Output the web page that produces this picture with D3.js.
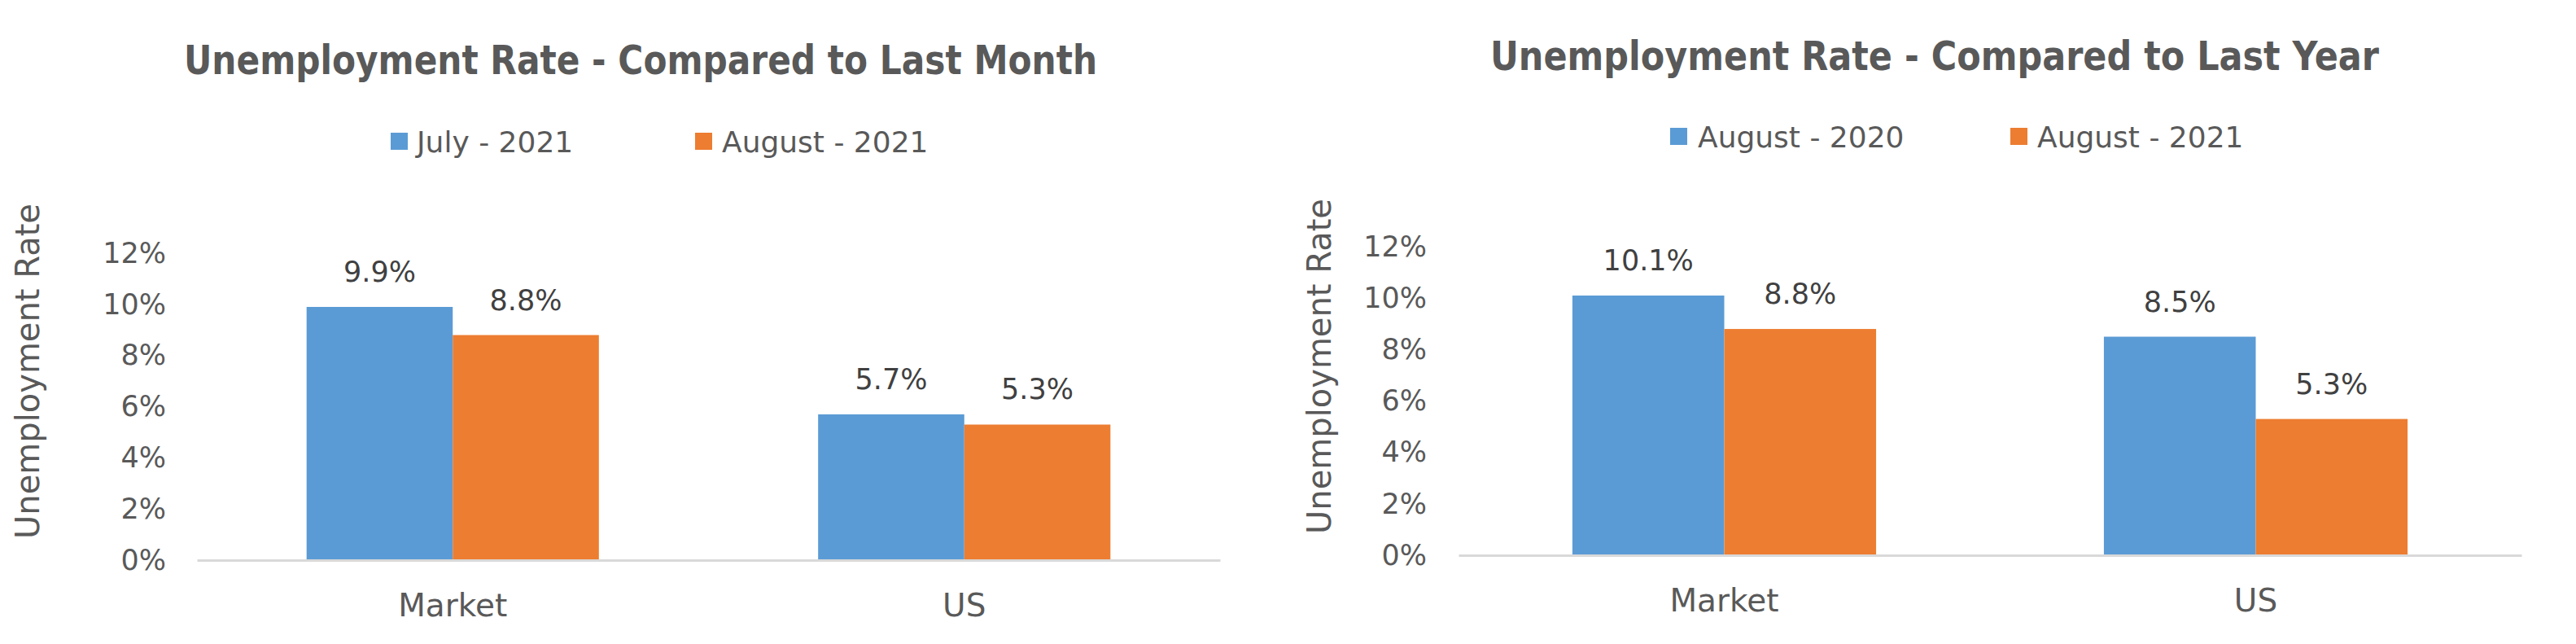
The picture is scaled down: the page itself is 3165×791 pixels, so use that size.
<!DOCTYPE html>
<html>
<head>
<meta charset="utf-8">
<script src="https://cdn.jsdelivr.net/npm/d3@7"></script>
<style>
  html, body { margin: 0; padding: 0; background: #ffffff; }
  svg { display: block; }
  text { font-family: "DejaVu Sans", sans-serif; }
</style>
</head>
<body>
<svg id="chart" width="3165" height="791"></svg>
<script>
// ---------- DATA ----------
const categories = ["Market", "US"];
const yTicks = [0, 2, 4, 6, 8, 10, 12];

const monthTitle = "Unemployment Rate - Compared to Last Month";
const monthSeries = ["July - 2021", "August - 2021"];
const monthValuesA = [9.9, 5.7];   // July - 2021
const monthValuesB = [8.8, 5.3];   // August - 2021

const yearTitle = "Unemployment Rate - Compared to Last Year";
const yearSeries = ["August - 2020", "August - 2021"];
const yearValuesA = [10.1, 8.5];   // August - 2020
const yearValuesB = [8.8, 5.3];    // August - 2021

const yAxisTitle = "Unemployment Rate";
const colors = ["#5B9BD5", "#ED7D31"];

// ---------- LAYOUT ----------
const layouts = [
  { title: monthTitle, series: monthSeries, values: [monthValuesA, monthValuesB],
    titleX: 787, titleY: 91, titleW: 1122,
    legY: 163, legBase: 187, legSq: [480, 854], legTx: [512, 887],
    yTitleX: 48, yTitleY: 456,
    tickRight: 204, x0: 242, x1: 1499, yBottom: 688, yTop: 311 },
  { title: yearTitle, series: yearSeries, values: [yearValuesA, yearValuesB],
    titleX: 2377, titleY: 86, titleW: 1092,
    legY: 157, legBase: 181, legSq: [2052, 2470], legTx: [2086, 2503],
    yTitleX: 1635, yTitleY: 450,
    tickRight: 1753, x0: 1792, x1: 3098, yBottom: 682, yTop: 303 }
];

const svg = d3.select("#chart");

layouts.forEach(L => {
  const g = svg.append("g");

  // Title
  g.append("text")
    .attr("x", L.titleX).attr("y", L.titleY)
    .attr("text-anchor", "middle")
    .attr("font-size", 49).attr("font-weight", "bold")
    .attr("fill", "#595959")
    .attr("textLength", L.titleW).attr("lengthAdjust", "spacingAndGlyphs")
    .text(L.title);

  // Legend
  L.series.forEach((s, i) => {
    g.append("rect")
      .attr("x", L.legSq[i]).attr("y", L.legY)
      .attr("width", 21).attr("height", 21)
      .attr("fill", colors[i]);
    g.append("text")
      .attr("x", L.legTx[i]).attr("y", L.legBase)
      .attr("font-size", 36).attr("fill", "#595959")
      .text(s);
  });

  // Scales
  const x = d3.scaleBand().domain(categories).range([L.x0, L.x1]).paddingInner(0).paddingOuter(0);
  const y = d3.scaleLinear().domain([0, 12]).range([L.yBottom, L.yTop]);
  const barW = x.bandwidth() / 3.5;   // 150% gap width, 2 series

  // Y axis tick labels
  const yAxis = d3.axisLeft(y).tickValues(yTicks).tickFormat(d => d + "%").tickSize(0).tickPadding(0);
  const ya = g.append("g").attr("transform", `translate(${L.tickRight},0)`).call(yAxis);
  ya.select(".domain").remove();
  ya.selectAll("text")
    .attr("font-family", "DejaVu Sans, sans-serif")
    .attr("font-size", 35).attr("fill", "#595959");

  // Y axis title
  g.append("text")
    .attr("transform", `translate(${L.yTitleX},${L.yTitleY}) rotate(-90)`)
    .attr("text-anchor", "middle")
    .attr("font-size", 40).attr("fill", "#595959")
    .text(yAxisTitle);

  // Bars
  L.values.forEach((vals, si) => {
    const bars = g.append("g");
    bars.selectAll("rect").data(categories).join("rect")
      .attr("x", (c) => x(c) + x.bandwidth() / 2 - barW + si * barW)
      .attr("y", (c, i) => y(vals[i]))
      .attr("width", barW)
      .attr("height", (c, i) => y(0) - y(vals[i]))
      .attr("fill", colors[si]);
    bars.selectAll("text").data(categories).join("text")
      .attr("x", (c) => x(c) + x.bandwidth() / 2 - barW / 2 + si * barW)
      .attr("y", (c, i) => y(vals[i]) - 31)
      .attr("text-anchor", "middle")
      .attr("font-size", 35).attr("fill", "#404040")
      .text((c, i) => vals[i].toFixed(1) + "%");
  });

  // X axis line + labels
  const xAxis = d3.axisBottom(x).tickSize(0).tickPadding(0);
  const xa = g.append("g").attr("transform", `translate(0,${L.yBottom})`).call(xAxis);
  xa.select(".domain").attr("stroke", "#d9d9d9").attr("stroke-width", 3);
  xa.selectAll("text")
    .attr("font-family", "DejaVu Sans, sans-serif")
    .attr("font-size", 39).attr("fill", "#595959")
    .attr("dy", null).attr("y", 69);
});
</script>
</body>
</html>
